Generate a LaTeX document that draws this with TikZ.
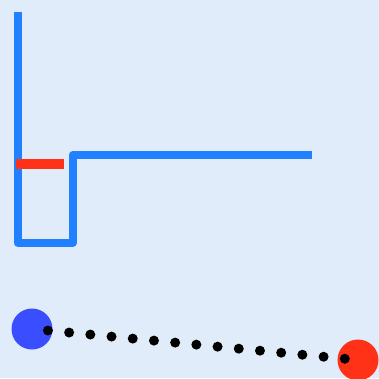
\documentclass[tikz,border=0pt]{standalone}
\usepackage{tikz}
\usetikzlibrary{positioning}
\usepackage{xcolor}
\definecolor{paperblue}{RGB}{224,236,249}
\definecolor{wallblue}{RGB}{32,128,255}
\definecolor{startblue}{RGB}{58,78,255}
\definecolor{markred}{RGB}{255,50,24}
\tikzset{
  wall/.style    ={draw=wallblue, line width=8pt, line join=round},      % Wand
  gate/.style    ={draw=markred, line width=10pt},                        % Schranke
  ball/.style    ={circle, inner sep=0pt, minimum size=41pt, draw=none},
  startball/.style={ball, fill=startblue},
  goalball/.style ={ball, fill=markred},
  trail/.style   ={draw=black, line width=10pt, line cap=round,
                   dash pattern=on 0pt off 21.3pt, dash phase=5.3pt},
}
\begin{document}
\begin{tikzpicture}[x=1pt, y=-1pt]
  \useasboundingbox (0,0) rectangle (379,378);
  \fill[paperblue] (0,0) rectangle (379,378);
  % Wand und Schranke
  \draw[wall] (17.5,12) -- (17.5,242.5) -- (73,242.5) -- (73,154.5) -- (312,154.5);
  \draw[gate] (16,163.5) -- (64,163.5);
  % Start, Ziel und Spur
  \node[startball] (start) at (32,329)  {};
  \node[goalball]  (goal)  at (358,360) {};
  \draw[trail] (start.center) -- (goal.center);
\end{tikzpicture}
\end{document}
